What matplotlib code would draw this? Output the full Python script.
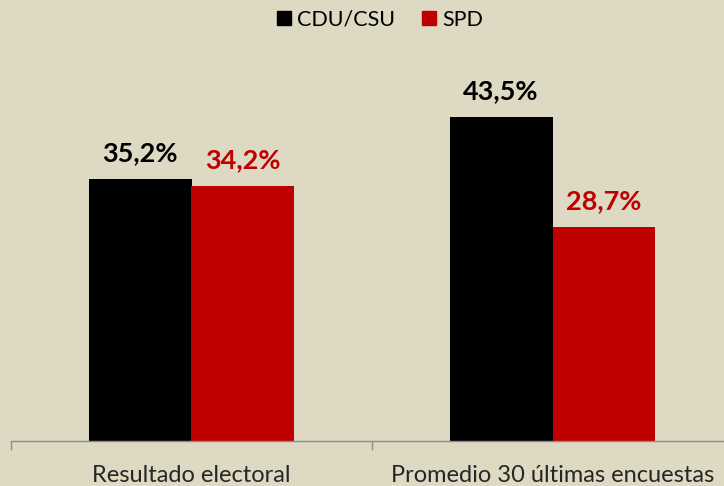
import matplotlib
matplotlib.use('Agg')
import matplotlib.pyplot as plt
from matplotlib.lines import Line2D
import numpy as np

plt.rcParams['font.family'] = ['Lato', 'DejaVu Sans']

categories = ['Resultado electoral', 'Promedio 30 últimas encuestas']
series_names = ['CDU/CSU', 'SPD']
cdu_csu = [35.2, 43.5]
spd = [34.2, 28.7]

BG = '#DDD9C3'
BLACK = '#000000'
RED = '#C00000'

fig = plt.figure(figsize=(7.24, 4.86), dpi=100, facecolor=BG)
ax = fig.add_axes([11 / 724, 45 / 486, 722 / 724, 372.5 / 486], facecolor=BG)

x = np.arange(len(categories)) + 0.5
w = 0.285
bars1 = ax.bar(x - w / 2, cdu_csu, width=w, color=BLACK)
bars2 = ax.bar(x + w / 2, spd, width=w, color=RED)

# etiquetas de valores
for bars, vals, col in [(bars1, cdu_csu, BLACK), (bars2, spd, RED)]:
    for b, v in zip(bars, vals):
        ax.annotate(f"{v:.1f}%".replace('.', ','),
                    (b.get_x() + b.get_width() / 2, v),
                    xytext=(0, 10), textcoords='offset points',
                    ha='center', va='bottom', fontsize=19.5, fontweight='bold', color=col)

ax.set_xlim(0, len(categories))
ax.set_ylim(0, 50)

ax.set_xticks(np.arange(len(categories) + 1))
ax.set_xticklabels([])
ax.tick_params(axis='x', which='major', length=6.5, width=1, color='#8C8C8C', direction='out')
ax.set_xticks(x, minor=True)
ax.set_xticklabels(categories, minor=True, fontsize=17, color='#262626')
ax.tick_params(axis='x', which='minor', length=0, pad=17)
ax.set_yticks([])

for s in ['left', 'right', 'top']:
    ax.spines[s].set_visible(False)
ax.spines['bottom'].set_color('#8C8C8C')
ax.spines['bottom'].set_linewidth(1)

handles = [Line2D([], [], marker='s', linestyle='none', markersize=10.5, color=BLACK),
           Line2D([], [], marker='s', linestyle='none', markersize=10.5, color=RED)]
fig.legend(handles, series_names, loc='center', bbox_to_anchor=(378 / 724, 1 - 20 / 486),
           ncol=2, frameon=False, fontsize=15.5, handletextpad=0.1, columnspacing=1.1,
           handlelength=1.0)

fig.savefig('out.png', dpi=100, facecolor=BG)
